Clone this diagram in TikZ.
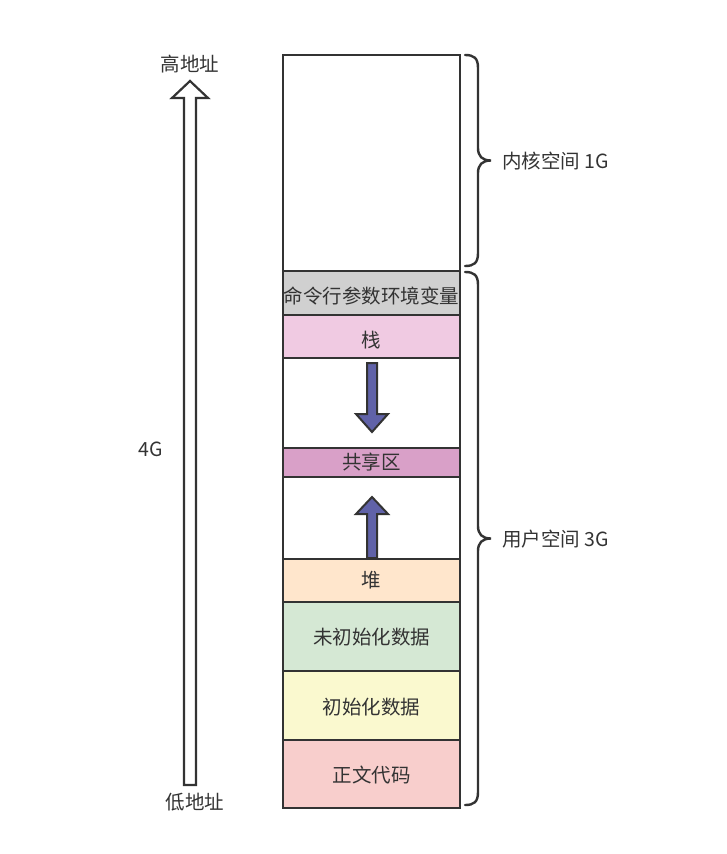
\documentclass[tikz,border=0pt]{standalone}
\usepackage{fontspec}
\setmainfont{Noto Sans CJK SC}
\definecolor{edge}{HTML}{333333}
\definecolor{cmdgray}{HTML}{D0D0D0}
\definecolor{stackpink}{HTML}{F0CAE2}
\definecolor{sharedpink}{HTML}{D9A0C8}
\definecolor{heaporange}{HTML}{FFE6CC}
\definecolor{bssgreen}{HTML}{D5E8D4}
\definecolor{datayellow}{HTML}{FAF9CF}
\definecolor{textred}{HTML}{F8CECC}
\definecolor{arrowblue}{HTML}{6062A8}
\begin{document}
\begin{tikzpicture}[x=1pt,y=-1pt,
  seg/.style={draw=edge,line width=2.2pt},
  lbl/.style={font=\fontsize{19.5}{23}\selectfont,text=edge,inner sep=0pt},
  bracestyle/.style={draw=edge,line width=2.4pt,line cap=round},
  blockarrow/.style={draw=edge,line width=2pt,fill=arrowblue,line join=miter},
  hollow/.style={draw=edge,line width=2.2pt,fill=white,line join=miter}]
\useasboundingbox (0,0) rectangle (727,854);
% segments
\path[seg,fill=white] (283,55) rectangle (460,271);
\path[seg,fill=cmdgray] (283,271) rectangle (460,315);
\node[lbl] (cmd) at (371.5,296) {命令行参数环境变量};
\path[seg,fill=stackpink] (283,315) rectangle (460,358);
\node[lbl] (stack) at (371.5,340) {栈};
\path[seg,fill=white] (283,358) rectangle (460,448);
\path[seg,fill=sharedpink] (283,448) rectangle (460,477);
\node[lbl] (shared) at (371.5,462) {共享区};
\path[seg,fill=white] (283,477) rectangle (460,559);
\path[seg,fill=heaporange] (283,559) rectangle (460,602);
\node[lbl] (heap) at (371.5,580) {堆};
\path[seg,fill=bssgreen] (283,602) rectangle (460,671);
\node[lbl] (bss) at (371.5,637) {未初始化数据};
\path[seg,fill=datayellow] (283,671) rectangle (460,740);
\node[lbl] (data) at (371.5,707) {初始化数据};
\path[seg,fill=textred] (283,740) rectangle (460,808);
\node[lbl] (text) at (371.5,775) {正文代码};
% growth arrows
\path[blockarrow] (367,363) -- (377,363) -- (377,414) -- (388,414) -- (372,432) -- (356,414) -- (367,414) -- cycle;
\path[blockarrow] (367,558) -- (377,558) -- (377,514) -- (388,514) -- (372,497) -- (356,514) -- (367,514) -- cycle;
% address arrow
\path[hollow] (184,785) -- (196,785) -- (196,98) -- (208,98) -- (190,81) -- (172,98) -- (184,98) -- cycle;
\node[lbl] (high) at (190,64) {高地址};
\node[lbl] (low) at (195,802) {低地址};
\node[lbl] (four) at (151,449) {4G};
% braces
\coordinate (kt) at (465,55);
\coordinate (kb) at (465,266);
\coordinate (km) at (491,160.5);
\draw[bracestyle] (kt) .. controls (474,55) and (478,58) .. (478,68)
  -- (478,148) .. controls (478,156) and (482,160.5) .. (km)
  .. controls (482,160.5) and (478,165) .. (478,173)
  -- (478,253) .. controls (478,263) and (474,266) .. (kb);
\node[lbl,anchor=west] (kernel) at (502,161) {内核空间 1G};
\coordinate (ut) at (465,272);
\coordinate (ub) at (465,805);
\coordinate (um) at (491,538.5);
\draw[bracestyle] (ut) .. controls (474,272) and (478,275) .. (478,285)
  -- (478,526) .. controls (478,534) and (482,538.5) .. (um)
  .. controls (482,538.5) and (478,543) .. (478,551)
  -- (478,792) .. controls (478,802) and (474,805) .. (ub);
\node[lbl,anchor=west] (user) at (502,539) {用户空间 3G};
\end{tikzpicture}
\end{document}
